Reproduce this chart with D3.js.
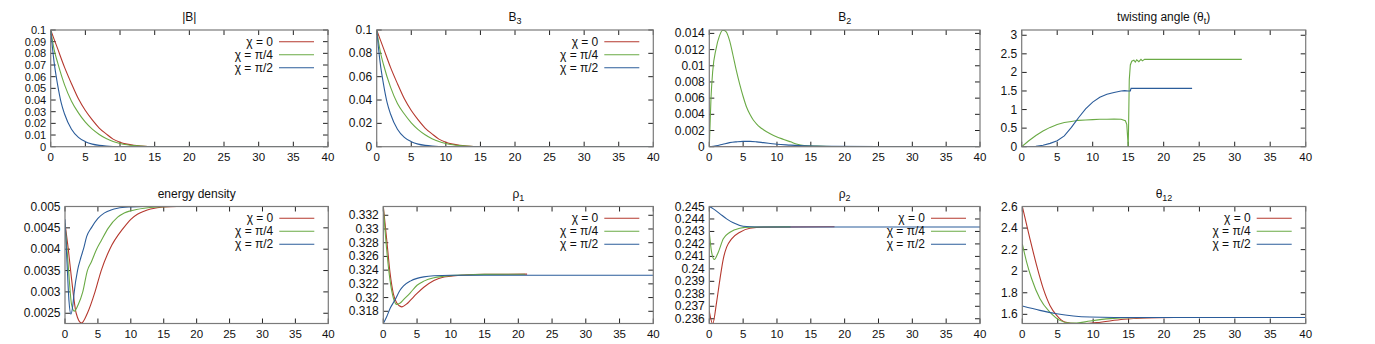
<!DOCTYPE html>
<html lang="en">
  <head>
    <meta charset="UTF-8" />
    <title>flux tube profiles</title>
    <script src="https://cdn.jsdelivr.net/npm/d3@7"></script>
    <style>
      body { margin: 0; background: #fff; }
      text { font-family: "Liberation Sans", Arial, sans-serif; font-size: 11.5px; fill: #111; }
    </style>
  </head>
  <body>
    <svg id="container" width="1375" height="344"></svg>
    <script>
      // categories / legend
      const chiLabels = ["χ = 0", "χ = π/4", "χ = π/2"];
      const xTicks = [0, 5, 10, 15, 20, 25, 30, 35, 40];

      // |B|
      const absB0 = [[0,0.1],[1,0.084],[2,0.068],[3,0.054],[4,0.041],[5,0.031],[6,0.023],[7,0.016],[8,0.011],[9,0.0065],[10,0.0038],[11,0.0022],[12,0.0012],[13,0.0006],[14,0.0002],[15,0.0001],[40,0]];
      const absB1 = [[0,0.1],[0.5,0.083],[1,0.072],[2,0.053],[3,0.039],[4,0.029],[5,0.021],[6,0.015],[7,0.0105],[8,0.007],[9,0.0045],[10,0.0028],[11,0.0017],[12,0.001],[13,0.0005],[14,0.0002],[15,0.0001],[40,0]];
      const absB2 = [[0,0.1],[0.25,0.085],[0.5,0.072],[1,0.053],[1.5,0.038],[2,0.028],[3,0.015],[4,0.008],[5,0.0043],[6,0.0022],[7,0.0011],[8,0.0005],[9,0.0002],[10,0.0001],[40,0]];

      // B3
      const b3_0 = [[0,0.1],[1,0.084],[2,0.068],[3,0.054],[4,0.041],[5,0.031],[6,0.023],[7,0.016],[8,0.011],[9,0.0065],[10,0.0038],[11,0.0022],[12,0.0012],[13,0.0006],[14,0.0002],[15,0.0001],[40,0]];
      const b3_1 = [[0,0.1],[0.5,0.082],[1,0.07],[2,0.051],[3,0.037],[4,0.028],[5,0.0205],[6,0.0147],[7,0.0103],[8,0.0069],[9,0.0044],[10,0.0028],[11,0.0017],[12,0.001],[13,0.0005],[14,0.0002],[15,0.0001],[40,0]];
      const b3_2 = [[0,0.1],[0.25,0.085],[0.5,0.072],[1,0.053],[1.5,0.038],[2,0.028],[3,0.015],[4,0.008],[5,0.0043],[6,0.0022],[7,0.0011],[8,0.0005],[9,0.0002],[10,0.0001],[40,0]];

      // B2
      const b2_0 = [[0,0],[40,0]];
      const b2_1 = [[0,0],[0.25,0.006],[0.5,0.0093],[1,0.0121],[1.5,0.0137],[2,0.0144],[2.5,0.0142],[3,0.0131],[3.5,0.0113],[4,0.0094],[4.5,0.0077],[5,0.0062],[5.5,0.0049],[6,0.004],[6.5,0.0033],[7,0.0028],[7.5,0.0024],[8,0.0021],[9,0.0016],[10,0.0012],[11,0.0009],[12,0.0006],[13,0.0003],[14,0.00015],[16,0.00007],[20,0],[40,0]];
      const b2_2 = [[0,0],[1,0.0001],[2,0.0003],[3,0.0005],[4,0.0006],[5,0.00066],[6,0.00066],[7,0.0006],[8,0.0005],[9,0.0004],[10,0.0003],[12,0.0002],[14,0.0001],[18,0.00005],[25,0.00002],[40,0]];

      // twisting angle
      const twist1 = [[0,0],[1,0.16],[2,0.3],[3,0.42],[4,0.52],[5,0.6],[6,0.65],[7,0.68],[8,0.71],[9,0.72],[10,0.73],[11,0.74],[12,0.74],[13,0.745],[14,0.74],[14.3,0.72],[14.6,0.7],[14.8,0.6],[14.9,0.3],[15,0],[15.05,0.5],[15.15,1.8],[15.3,2.2],[15.5,2.3],[15.8,2.33],[16,2.28],[16.2,2.34],[16.5,2.29],[16.8,2.35],[17,2.31],[17.3,2.35],[31,2.35]];
      const twist2 = [[0,0],[1,0],[2,0.01],[3,0.04],[4,0.09],[5,0.16],[6,0.29],[7,0.52],[7.7,0.7],[8,0.78],[9,1.02],[10,1.2],[11,1.33],[12,1.41],[13,1.46],[14,1.5],[14.5,1.51],[15,1.5],[15.3,1.5],[15.4,1.57],[24,1.57]];

      // energy density
      const energy0 = [[0,0.0046],[0.5,0.004],[1,0.0033],[1.7,0.0025],[2.5,0.00227],[3.4,0.0025],[4.56,0.003],[5.5,0.0035],[6.8,0.004],[8.9,0.0045],[10,0.0047],[11,0.00482],[12,0.00489],[13,0.00494],[14,0.00497],[15,0.00499],[17,0.005],[40,0.005]];
      const energy1 = [[0,0.0046],[0.5,0.0036],[1,0.0027],[1.4,0.00255],[2,0.0027],[2.7,0.003],[3.4,0.0035],[4,0.0037],[4.8,0.004],[5.5,0.0042],[6.6,0.0045],[8,0.00475],[9,0.00485],[10,0.0049],[12,0.00496],[14,0.00499],[16,0.005],[40,0.005]];
      const energy2 = [[0,0.0047],[0.3,0.0037],[0.6,0.0028],[0.9,0.00248],[1.2,0.0027],[1.4,0.003],[1.9,0.0035],[2.4,0.0038],[2.8,0.004],[3.3,0.0043],[4,0.0045],[5,0.00472],[6,0.00485],[7,0.00492],[8,0.00496],[10,0.00499],[12,0.005],[40,0.005]];

      // rho1
      const rho1_0 = [[0,0.3333],[0.5,0.3285],[1,0.3236],[1.5,0.3205],[2,0.3192],[2.7,0.31865],[3.5,0.3191],[4,0.3196],[5,0.3206],[6,0.3215],[7.5,0.3225],[9,0.323],[10,0.3231],[12,0.3233],[15,0.32338],[21.3,0.32342]];
      const rho1_1 = [[0,0.3332],[0.5,0.327],[1,0.3225],[1.5,0.3199],[2,0.319],[2.5,0.3192],[3,0.3197],[4,0.3207],[5,0.3218],[6,0.3224],[7.5,0.3229],[9,0.3231],[10,0.3232],[12,0.3233],[15,0.32338],[21,0.3234]];
      const rho1_2 = [[0,0.3162],[0.5,0.3172],[1,0.3184],[1.7,0.3196],[2.5,0.3211],[3,0.3217],[4,0.3224],[5,0.3228],[6,0.32302],[7.5,0.32318],[10,0.32325],[40,0.32325]];

      // rho2
      const rho2_0 = [[0,0.2366],[0.5,0.2356],[1.08,0.23734],[1.58,0.2392],[2.07,0.24081],[2.56,0.24174],[3.3,0.24241],[4.53,0.24294],[6,0.24326],[8,0.24335],[18.5,0.24338]];
      const rho2_1 = [[0,0.24294],[0.34,0.24134],[0.74,0.24075],[1.33,0.24134],[2.07,0.24241],[3.05,0.24294],[4.5,0.24326],[6,0.24335],[12,0.24337]];
      const rho2_2 = [[0,0.245],[0.6,0.24481],[1.58,0.24441],[2.56,0.24401],[3.55,0.24369],[5,0.24342],[7,0.24336],[40,0.24336]];

      // theta12
      const theta0 = [[0,2.6],[1.08,2.3],[2.02,2.054],[2.96,1.838],[3.9,1.683],[4.85,1.591],[6,1.529],[7.67,1.514],[9,1.515],[10.5,1.523],[14.3,1.554],[17.6,1.566],[21.5,1.571]];
      const theta1 = [[0,2.254],[0.61,2.085],[1.32,1.93],[2.49,1.745],[3.9,1.62],[5.3,1.544],[6.7,1.52],[7.67,1.52],[9.55,1.538],[12.4,1.56],[15.2,1.569],[21,1.5708]];
      const theta2 = [[0,1.677],[2.49,1.637],[4.85,1.606],[7.2,1.585],[9.55,1.575],[13,1.5712],[40,1.5708]];

      const colors = ["#b5382e", "#6aaa45", "#2b5c9a"];

      const panels = [
        { title: ["|B|"], box: [50.7, 328, 30, 146.7], y: [0, 0.1], yTicks: d3.range(0, 0.1001, 0.01), dec: 2, fs: 11, series: [absB0, absB1, absB2], legend: true },
        { title: ["B", "3"], box: [376.7, 653.3, 30, 146.7], y: [0, 0.1], yTicks: d3.range(0, 0.1001, 0.02), dec: 2, fs: 12, series: [b3_0, b3_1, b3_2], legend: true },
        { title: ["B", "2"], box: [709.3, 980, 30, 146.7], y: [0, 0.01442], yTicks: d3.range(0, 0.01401, 0.002), dec: 3, fs: 12, series: [b2_0, b2_1, b2_2], legend: false },
        { title: ["twisting angle (θ", "t", ")"], box: [1021.7, 1305.7, 30, 146.7], y: [0, Math.PI], yTicks: d3.range(0, 3.01, 0.5), dec: 1, fs: 12, series: [null, twist1, twist2], legend: false, linear: true },
        { title: ["energy density"], box: [65, 328.3, 206.5, 323.5], y: [0.00226, 0.005], yTicks: d3.range(0.0025, 0.00501, 0.0005), dec: 4, fs: 12, series: [energy0, energy1, energy2], legend: true },
        { title: ["ρ", "1"], box: [383.3, 653.3, 206.5, 323.5], y: [0.31622, 0.33328], yTicks: d3.range(0.318, 0.3321, 0.002), dec: 3, fs: 12, series: [rho1_0, rho1_1, rho1_2], legend: true },
        { title: ["ρ", "2"], box: [709.3, 980, 206.5, 323.5], y: [0.23562, 0.245], yTicks: d3.range(0.236, 0.24501, 0.001), dec: 3, fs: 12, series: [rho2_0, rho2_1, rho2_2], legend: true },
        { title: ["θ", "12"], box: [1022.3, 1305.7, 206.5, 323.5], y: [1.515, 2.6], yTicks: d3.range(1.6, 2.601, 0.2), dec: 1, fs: 12, series: [theta0, theta1, theta2], legend: true },
      ];

      const svg = d3.select("#container");

      panels.forEach((p, i) => {
        const [x0, x1, y0, y1] = p.box;
        const x = d3.scaleLinear().domain([0, 40]).range([x0, x1]);
        const y = d3.scaleLinear().domain(p.y).range([y1, y0]);
        const g = svg.append("g");

        g.append("clipPath").attr("id", "clip" + i)
          .append("rect").attr("x", x0).attr("y", y0).attr("width", x1 - x0).attr("height", y1 - y0);

        // ticks on all four sides (mirrored, pointing inward)
        const tk = 5;
        xTicks.forEach((t) => {
          g.append("line").attr("x1", x(t)).attr("x2", x(t)).attr("y1", y1).attr("y2", y1 - tk).attr("stroke", "#222");
          g.append("line").attr("x1", x(t)).attr("x2", x(t)).attr("y1", y0).attr("y2", y0 + tk).attr("stroke", "#222");
          g.append("text").attr("x", x(t)).attr("y", y1 + 14.5).attr("text-anchor", "middle").text(t);
        });
        p.yTicks.forEach((t) => {
          g.append("line").attr("x1", x0).attr("x2", x0 + tk).attr("y1", y(t)).attr("y2", y(t)).attr("stroke", "#222");
          g.append("line").attr("x1", x1).attr("x2", x1 - tk).attr("y1", y(t)).attr("y2", y(t)).attr("stroke", "#222");
          g.append("text").attr("x", x0 - 4.5).attr("y", y(t) + 4).attr("text-anchor", "end")
            .style("font-size", p.fs + "px")
            .text(String(+t.toFixed(p.dec)));
        });

        const line = d3.line().x((d) => x(d[0])).y((d) => y(d[1]))
          .curve(p.linear ? d3.curveLinear : d3.curveMonotoneX);
        p.series.forEach((s, k) => {
          if (!s) return;
          g.append("path").attr("d", line(s)).attr("fill", "none")
            .attr("stroke", colors[k]).attr("stroke-width", 1.1)
            .attr("clip-path", `url(#clip${i})`);
        });

        g.append("rect").attr("x", x0).attr("y", y0).attr("width", x1 - x0).attr("height", y1 - y0)
          .attr("fill", "none").attr("stroke", "#7a7a7a").attr("stroke-width", 1.2);

        // title
        const tt = g.append("text").attr("x", (x0 + x1) / 2).attr("y", y0 - 9).attr("text-anchor", "middle").style("font-size", "12px");
        tt.append("tspan").text(p.title[0]);
        if (p.title.length > 1) {
          tt.append("tspan").attr("dy", 3).style("font-size", "9px").text(p.title[1]);
        }
        if (p.title.length > 2) {
          tt.append("tspan").attr("dy", -3).text(p.title[2]);
        }

        if (p.legend) {
          chiLabels.forEach((lab, k) => {
            const ly = y0 + 11.7 + k * 13;
            g.append("text").attr("x", x1 - 55).attr("y", ly + 4).attr("text-anchor", "end").style("font-size", "12px").text(lab);
            g.append("line").attr("x1", x1 - 49).attr("x2", x1 - 14).attr("y1", ly).attr("y2", ly)
              .attr("stroke", colors[k]).attr("stroke-width", 1.1);
          });
        }
      });
    </script>
  </body>
</html>
